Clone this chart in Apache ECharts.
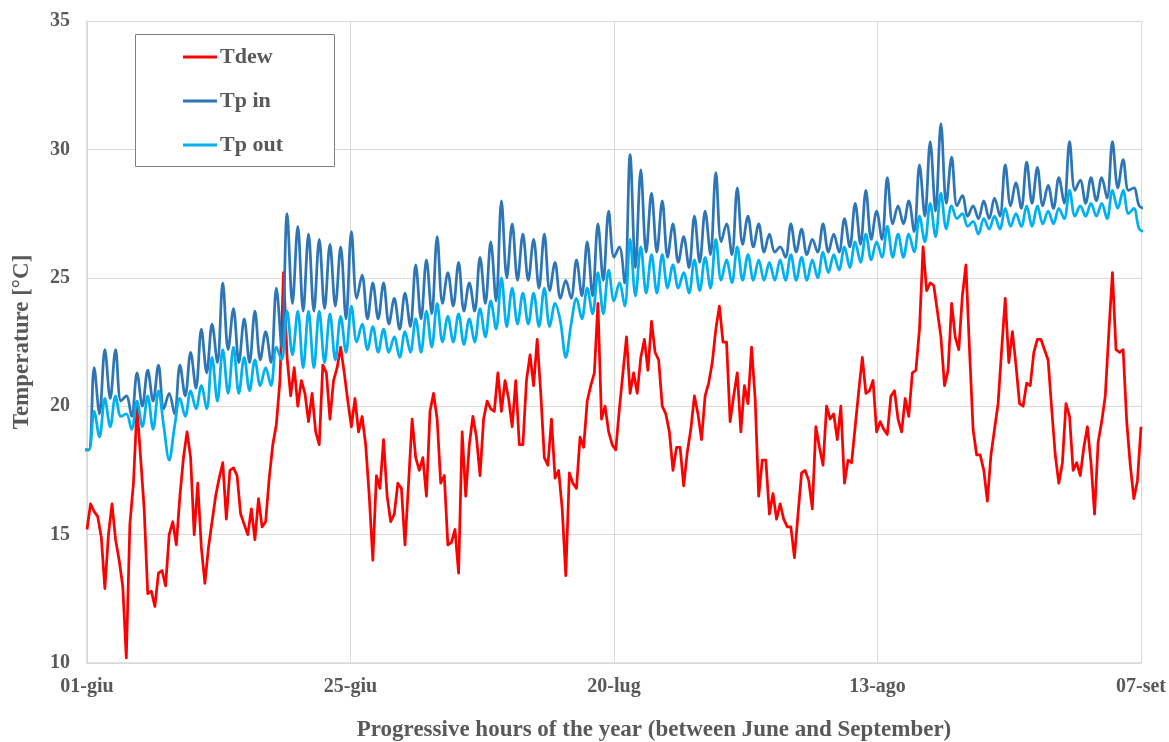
<!DOCTYPE html>
<html>
<head>
<meta charset="utf-8">
<script src="https://cdn.jsdelivr.net/npm/echarts@6/dist/echarts.min.js"></script>
<style>
  html, body { margin: 0; padding: 0; background: #ffffff; }
  #chart { width: 1169px; height: 742px; }
</style>
</head>
<body>
<div id="chart"></div>
<script>
// Time axis: progressive hours from 1 June, labelled every 590 h
const TICK_LABELS = ['01-giu', '25-giu', '20-lug', '13-ago', '07-set'];
const HOURS_SPAN = 2360;
const TICK_STEP = 590;

// Dew point temperature, one sample every 8 h starting at hour 0
const TDEW_STEP = 8;
const TDEW = [
  15.2, 16.2, 15.9, 15.7, 14.9, 12.9, 15.0, 16.2, 14.8, 14.0,
  13.0, 10.2, 15.4, 17.0, 20.0, 18.0, 16.0, 12.7, 12.8, 12.2,
  13.5, 13.6, 13.0, 15.0, 15.5, 14.6, 16.5, 18.0, 19.0, 18.0,
  15.0, 17.0, 14.5, 13.1, 14.5, 15.5, 16.5, 17.2, 17.8, 15.6,
  17.5, 17.6, 17.3, 15.8, 15.4, 15.0, 16.0, 14.8, 16.4, 15.3,
  15.5, 17.2, 18.5, 19.3, 21.0, 25.2, 21.9, 20.4, 21.5, 20.0,
  21.0, 20.5, 19.4, 20.5, 19.0, 18.5, 21.6, 21.3, 19.5, 21.0,
  21.5, 22.3, 21.3, 20.2, 19.2, 20.3, 19.0, 19.6, 18.5, 16.5,
  14.0, 17.3, 16.8, 18.7, 16.5, 15.5, 15.8, 17.0, 16.8, 14.6,
  17.0, 19.5, 18.0, 17.5, 18.0, 16.5, 19.8, 20.5, 19.5, 17.0,
  17.3, 14.6, 14.7, 15.2, 13.5, 19.0, 16.5, 18.5, 19.6, 18.8,
  17.3, 19.5, 20.2, 19.9, 19.8, 21.3, 19.8, 21.0, 20.3, 19.2,
  21.0, 18.5, 18.5, 21.0, 22.0, 20.8, 22.6, 20.5, 18.0, 17.7,
  19.5, 17.2, 17.5, 16.0, 13.4, 17.4, 17.0, 16.8, 18.8, 18.4,
  20.2, 20.8, 21.3, 24.0, 19.5, 20.0, 19.0, 18.5, 18.3, 19.9,
  21.3, 22.7, 20.5, 21.3, 20.5, 21.9, 22.6, 21.4, 23.3, 22.1,
  21.8, 20.0, 19.7, 19.0, 17.5, 18.4, 18.4, 16.9, 18.2, 19.1,
  20.4, 19.7, 18.7, 20.4, 20.9, 21.7, 23.0, 23.9, 22.5, 22.5,
  19.4, 20.4, 21.3, 19.0, 20.8, 20.1, 22.3, 20.3, 16.5, 17.9,
  17.9, 15.8, 16.6, 15.6, 16.2, 15.6, 15.3, 15.3, 14.1, 15.8,
  17.4, 17.5, 17.1, 16.0, 19.2, 18.4, 17.7, 20.0, 19.5, 19.7,
  18.7, 20.0, 17.0, 17.9, 17.8, 19.2, 20.6, 21.9, 20.5, 20.6,
  21.0, 19.0, 19.4, 19.1, 18.9, 20.4, 20.6, 19.5, 19.0, 20.3,
  19.6, 21.3, 21.4, 23.0, 26.2, 24.5, 24.8, 24.7, 23.7, 22.7,
  20.8, 21.4, 24.0, 22.7, 22.2, 24.3, 25.5, 22.2, 19.1, 18.1,
  18.1, 17.5, 16.3, 18.1, 19.1, 20.1, 22.2, 24.2, 21.7, 22.9,
  21.6, 20.1, 20.0, 20.9, 20.8, 22.1, 22.6, 22.6, 22.2, 21.8,
  19.9, 18.1, 17.0, 17.8, 20.1, 19.6, 17.5, 17.8, 17.3, 18.4,
  19.2, 17.8, 15.8, 18.6, 19.4, 20.4, 22.9, 25.2, 22.2, 22.1,
  22.2, 19.4, 17.7, 16.4, 17.1, 19.2
];

// Wall surface temperatures: night minimum / afternoon maximum pairs,
// one sample every 12 h starting at hour -8
const TP_STEP = 12;
const TP_FIRST_HOUR = -8;
const TP_IN = [
  18.3,
  18.3, 21.5, 19.7, 22.2, 20.3, 22.2, 20.2, 20.4, 19.6, 21.3,
  20.0, 21.4, 20.2, 21.6, 19.9, 20.5, 19.7, 21.6, 20.4, 22.1,
  20.7, 23.0, 21.3, 23.2, 21.7, 24.8, 22.2, 23.8, 21.7, 23.4,
  21.7, 23.7, 21.8, 22.9, 21.7, 24.6, 22.3, 27.5, 24.0, 27.0,
  23.7, 26.7, 23.7, 26.5, 23.8, 26.3, 23.9, 26.2, 23.4, 26.8,
  24.2, 25.1, 23.4, 24.8, 23.4, 24.8, 23.2, 24.2, 23.0, 24.4,
  23.1, 25.5, 23.4, 25.7, 23.6, 26.6, 24.0, 25.2, 23.9, 25.6,
  23.7, 24.8, 23.7, 25.8, 24.0, 26.4, 24.1, 28.0, 25.0, 27.1,
  24.9, 26.7, 24.9, 26.5, 24.6, 26.7, 24.5, 25.6, 24.2, 24.9,
  24.2, 25.7, 24.3, 26.4, 24.3, 27.1, 24.9, 27.6, 25.8, 26.2,
  24.8, 29.8, 25.4, 29.2, 26.0, 28.3, 26.0, 28.0, 25.8, 27.1,
  25.6, 26.6, 25.4, 27.4, 25.6, 27.6, 25.9, 29.1, 26.4, 27.1,
  25.9, 28.5, 26.3, 27.4, 26.2, 27.1, 26.0, 26.7, 26.0, 26.2,
  25.8, 27.1, 26.0, 26.9, 25.9, 26.5, 26.0, 27.1, 26.0, 26.7,
  26.0, 27.3, 26.2, 27.9, 26.3, 28.4, 26.5, 27.6, 26.5, 28.9,
  27.1, 27.8, 27.1, 28.0, 26.8, 29.4, 27.4, 30.3, 27.6, 31.0,
  27.9, 29.7, 27.8, 28.2, 27.4, 27.8, 27.3, 28.0, 27.3, 28.1,
  27.4, 29.4, 27.8, 28.7, 27.7, 29.5, 27.9, 29.3, 27.8, 28.6,
  27.7, 28.9, 27.9, 30.3, 28.4, 28.8, 27.9, 28.9, 28.0, 28.9,
  28.1, 30.3, 28.5, 29.6, 28.4, 28.5,
  27.8, 27.7
];
const TP_OUT = [
  18.3,
  18.3, 19.8, 18.8, 20.3, 19.2, 20.4, 19.6, 19.7, 19.1, 20.2,
  19.2, 20.4, 19.1, 20.6, 19.2, 17.9, 19.2, 20.3, 19.6, 20.6,
  19.9, 20.8, 19.9, 21.9, 20.2, 22.2, 20.5, 22.3, 20.5, 21.9,
  20.6, 21.8, 20.8, 21.5, 20.8, 22.3, 21.8, 23.7, 22.0, 23.7,
  21.5, 23.7, 21.5, 23.7, 21.7, 23.6, 21.8, 23.5, 22.1, 23.9,
  22.5, 23.2, 22.2, 23.1, 22.1, 23.0, 22.1, 22.7, 21.9, 22.9,
  22.1, 23.4, 22.1, 23.7, 22.3, 24.0, 22.5, 23.5, 22.5, 23.6,
  22.4, 23.4, 22.5, 23.8, 22.7, 24.1, 23.0, 25.0, 23.1, 24.6,
  23.2, 24.4, 23.2, 24.4, 23.1, 24.6, 23.1, 24.0, 23.3, 21.9,
  23.2, 24.2, 23.4, 24.6, 23.6, 25.2, 23.6, 25.3, 24.1, 24.8,
  23.9, 26.5, 24.3, 26.2, 24.4, 25.9, 24.4, 25.9, 24.6, 25.5,
  24.6, 25.2, 24.4, 25.7, 24.5, 25.8, 24.6, 26.5, 24.9, 25.7,
  24.8, 26.2, 24.9, 25.9, 24.9, 25.7, 24.9, 25.6, 24.9, 25.7,
  24.9, 25.9, 24.9, 25.8, 24.9, 25.7, 25.0, 26.0, 25.2, 25.9,
  25.3, 26.2, 25.4, 26.4, 25.6, 26.7, 25.7, 26.4, 25.8, 27.0,
  25.8, 26.7, 25.8, 26.7, 26.0, 27.4, 26.4, 27.9, 26.6, 28.3,
  26.9, 27.8, 27.3, 27.5, 27.0, 27.2, 26.7, 27.3, 26.9, 27.4,
  26.9, 27.7, 27.0, 27.5, 27.0, 27.8, 27.0, 27.8, 27.1, 27.6,
  27.1, 27.7, 27.3, 28.4, 27.4, 27.8, 27.4, 27.9, 27.4, 27.9,
  27.3, 28.4, 27.7, 28.4, 27.5, 27.7,
  26.9, 26.8
];

function toPairs(values, firstHour, step) {
  return values.map((v, i) => [firstHour + i * step, v]);
}

const FONT = '"Liberation Serif", "Times New Roman", serif';
const TEXT_COLOR = '#595959';
const GRID_COLOR = '#d9d9d9';

const chart = echarts.init(document.getElementById('chart'), null, { renderer: 'canvas' });

chart.setOption({
  animation: false,
  backgroundColor: '#ffffff',
  grid: { left: 87, right: 26, top: 21, bottom: 79, containLabel: false },
  xAxis: {
    type: 'value',
    min: 0,
    max: HOURS_SPAN,
    interval: TICK_STEP,
    axisLine: { show: true, lineStyle: { color: GRID_COLOR, width: 1.5 } },
    axisTick: { show: false },
    splitLine: { show: true, lineStyle: { color: GRID_COLOR, width: 1 } },
    axisLabel: {
      margin: 14,
      color: TEXT_COLOR,
      fontFamily: FONT,
      fontWeight: 'bold',
      fontSize: 20,
      showMinLabel: true,
      showMaxLabel: true,
      formatter: v => TICK_LABELS[Math.round(v / TICK_STEP)] || ''
    }
  },
  yAxis: {
    type: 'value',
    min: 10,
    max: 35,
    interval: 5,
    axisLine: { show: true, lineStyle: { color: GRID_COLOR, width: 1.5 } },
    axisTick: { show: false },
    splitLine: { show: true, lineStyle: { color: GRID_COLOR, width: 1 } },
    axisLabel: {
      margin: 17,
      color: TEXT_COLOR,
      fontFamily: FONT,
      fontWeight: 'bold',
      fontSize: 20
    }
  },
  legend: {
    orient: 'vertical',
    left: 183,
    top: 46,
    padding: 0,
    itemGap: 22,
    itemWidth: 34,
    itemHeight: 3,
    icon: 'rect',
    z: 10,
    textStyle: {
      color: TEXT_COLOR,
      fontFamily: FONT,
      fontWeight: 'bold',
      fontSize: 22,
      lineHeight: 22,
      padding: [0, 0, 0, -2]
    },
    data: ['Tdew', 'Tp in', 'Tp out']
  },
  graphic: [
    {
      type: 'rect',
      z: 5,
      shape: { x: 135.5, y: 34.5, width: 199, height: 132 },
      style: { fill: '#ffffff', stroke: '#7f7f7f', lineWidth: 1 }
    },
    {
      type: 'text',
      z: 5,
      x: 22,
      y: 342,
      rotation: Math.PI / 2,
      style: {
        text: 'Temperature [°C]',
        fill: TEXT_COLOR,
        font: 'bold 23px ' + FONT,
        textAlign: 'center',
        textVerticalAlign: 'middle'
      }
    },
    {
      type: 'text',
      z: 5,
      x: 654,
      y: 730,
      style: {
        text: 'Progressive hours of the year (between June and September)',
        fill: TEXT_COLOR,
        font: 'bold 23px ' + FONT,
        textAlign: 'center',
        textVerticalAlign: 'middle'
      }
    }
  ],
  series: [
    {
      name: 'Tdew',
      type: 'line',
      data: toPairs(TDEW, 0, TDEW_STEP),
      showSymbol: false,
      symbol: 'none',
      clip: true,
      itemStyle: { color: '#ff0000' },
      lineStyle: { color: '#ff0000', width: 2.75, join: 'round' }
    },
    {
      name: 'Tp in',
      type: 'line',
      data: toPairs(TP_IN, TP_FIRST_HOUR, TP_STEP),
      showSymbol: false,
      symbol: 'none',
      smooth: 0.35,
      clip: true,
      itemStyle: { color: '#2e75b6' },
      lineStyle: { color: '#2e75b6', width: 2.75 }
    },
    {
      name: 'Tp out',
      type: 'line',
      data: toPairs(TP_OUT, TP_FIRST_HOUR, TP_STEP),
      showSymbol: false,
      symbol: 'none',
      smooth: 0.35,
      clip: true,
      itemStyle: { color: '#00b0f0' },
      lineStyle: { color: '#00b0f0', width: 2.75 }
    }
  ]
});
</script>
</body>
</html>
